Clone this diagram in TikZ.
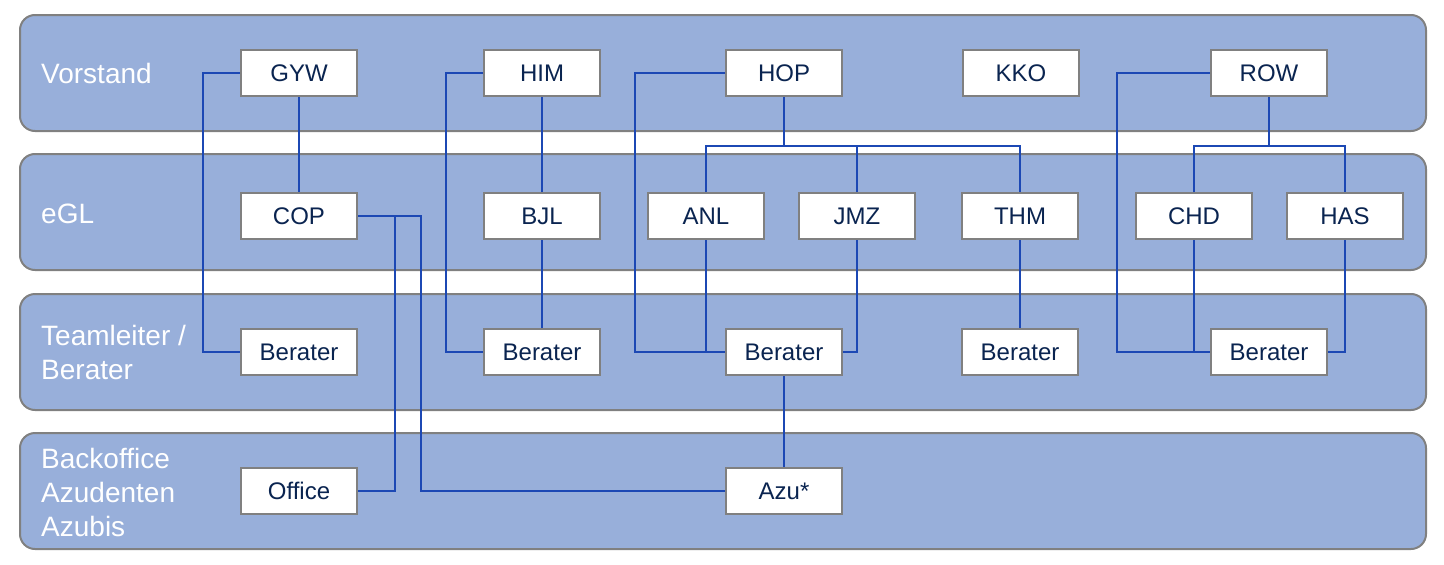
\documentclass[tikz,border=0pt]{standalone}
\usepackage{fontspec}
\setmainfont{Liberation Sans}
\usetikzlibrary{calc}

\definecolor{bandfill}{RGB}{152,175,218}
\definecolor{bandline}{RGB}{128,128,128}
\definecolor{connline}{RGB}{28,72,180}
\definecolor{boxtext}{RGB}{10,36,80}

\begin{document}
\begin{tikzpicture}[x=1pt,y=-1pt,
        band/.style={draw=bandline,line width=2pt,fill=bandfill,rounded corners=15pt},
        bandlabel/.style={anchor=west,align=left,text=white,font=\fontsize{28}{34}\selectfont,inner sep=0pt},
        person/.style={draw=bandline,line width=2pt,fill=white,minimum width=116pt,minimum height=46pt,
            inner sep=0pt,text=boxtext,font=\fontsize{24}{28}\selectfont},
        conn/.style={draw=connline,line width=1.5pt}]
                \useasboundingbox (0,0) rectangle (1444,565);

                % Ebenen
                \draw[band] (20,15) rectangle (1426,131);
                \draw[band] (20,154) rectangle (1426,270);
                \draw[band] (20,294) rectangle (1426,410);
                \draw[band] (20,433) rectangle (1426,549);

                \node[bandlabel] (lVorstand) at (41,73) {Vorstand};
                \node[bandlabel] (lEGL) at (41,214) {eGL};
                \node[bandlabel] (lTeam) at (41,352) {Teamleiter /\\Berater};
                \node[bandlabel] (lBack) at (41,492) {Backoffice\\Azudenten\\Azubis};

                % Vorstand
                \node[person] (GYW) at (299,73) {GYW};
                \node[person] (HIM) at (542,73) {HIM};
                \node[person] (HOP) at (784,73) {HOP};
                \node[person] (KKO) at (1021,73) {KKO};
                \node[person] (ROW) at (1269,73) {ROW};

                % eGL
                \node[person] (COP) at (299,216) {COP};
                \node[person] (BJL) at (542,216) {BJL};
                \node[person] (ANL) at (706,216) {ANL};
                \node[person] (JMZ) at (857,216) {JMZ};
                \node[person] (THM) at (1020,216) {THM};
                \node[person] (CHD) at (1194,216) {CHD};
                \node[person] (HAS) at (1345,216) {HAS};

                % Teamleiter / Berater
                \node[person] (ber1) at (299,352) {Berater};
                \node[person] (ber2) at (542,352) {Berater};
                \node[person] (ber3) at (784,352) {Berater};
                \node[person] (ber4) at (1020,352) {Berater};
                \node[person] (ber5) at (1269,352) {Berater};

                % Backoffice
                \node[person] (office) at (299,491) {Office};
                \node[person] (azu) at (784,491) {Azu*};

                \coordinate (hopbus) at ($(HOP.south)+(0,49)$);
                \coordinate (rowbus) at ($(ROW.south)+(0,49)$);

                % Linien
                \draw[conn] (GYW.west) -- ++(-37,0) |- (ber1.west);
                \draw[conn] (GYW) -- (COP);
                \draw[conn] (COP.east) -- ++(37,0) |- (office.east);
                \draw[conn] (COP.east) -- ++(63,0) |- (azu.west);

                \draw[conn] (HIM.west) -- ++(-37,0) |- (ber2.west);
                \draw[conn] (HIM) -- (BJL);
                \draw[conn] (BJL) -- (ber2);

                \draw[conn] (HOP.west) -- ++(-90,0) |- (ber3.west);
                \draw[conn] (HOP.south) -- (hopbus);
                \draw[conn] (ANL.north) |- (hopbus) -| (THM.north);
                \draw[conn] (JMZ.north) -- (JMZ.north |- hopbus);
                \draw[conn] (ANL.south) |- (ber3.west);
                \draw[conn] (JMZ.south) |- (ber3.east);
                \draw[conn] (THM) -- (ber4);
                \draw[conn] (ber3) -- (azu);

                \draw[conn] (ROW.west) -- ++(-93,0) |- (ber5.west);
                \draw[conn] (ROW.south) -- (rowbus);
                \draw[conn] (CHD.north) |- (rowbus) -| (HAS.north);
                \draw[conn] (CHD.south) |- (ber5.west);
                \draw[conn] (HAS.south) |- (ber5.east);
\end{tikzpicture}
\end{document}
